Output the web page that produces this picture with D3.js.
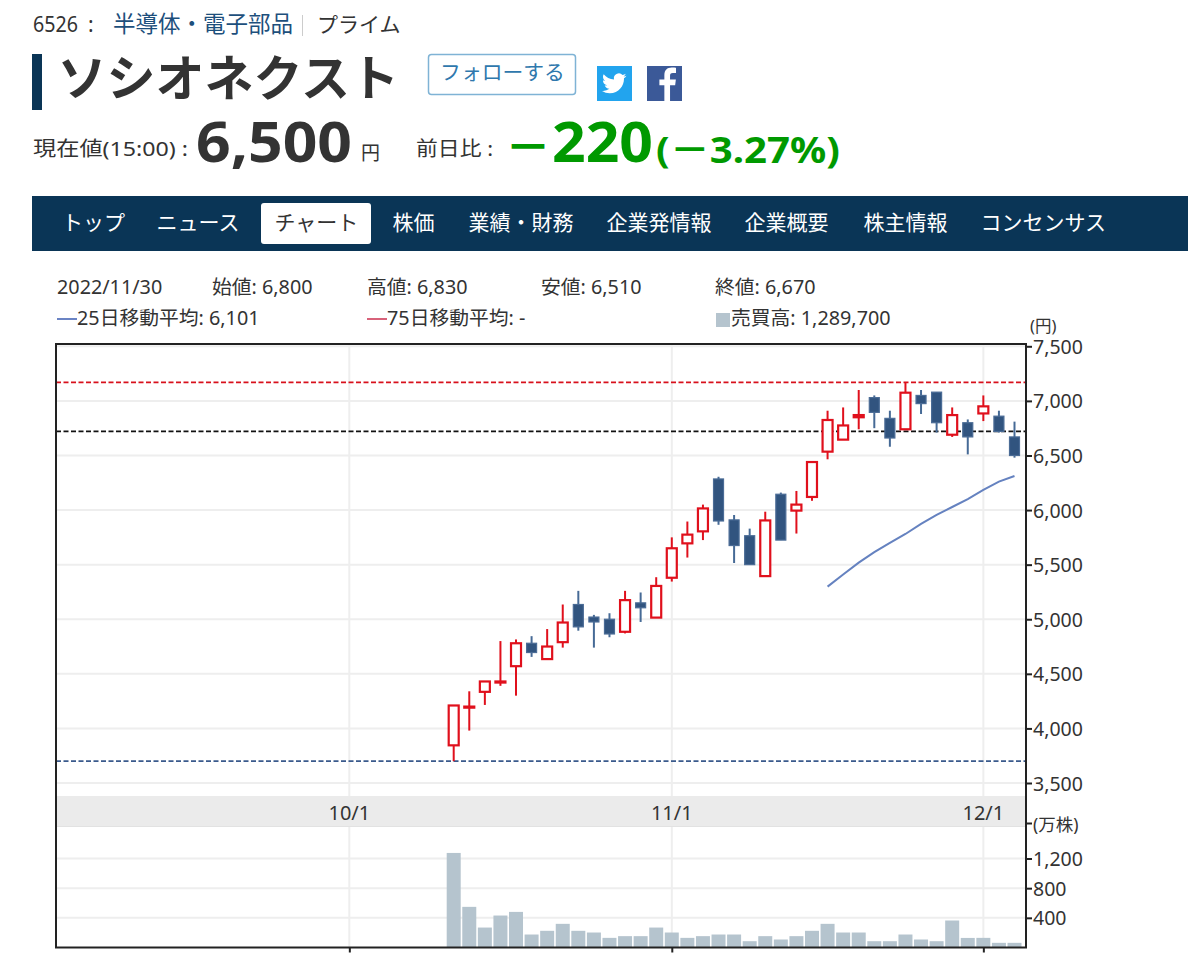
<html>
<head>
  <meta charset="utf-8">
  <style>
    body { margin: 0; background: #fff; }
    text { font-family: "Noto Sans", "Noto Sans CJK JP", sans-serif; fill: #333; }
  </style>
  <script src="https://d3js.org/d3.v7.min.js"></script>
  <script>
    var dates = ["10/12","10/13","10/14","10/17","10/18","10/19","10/20","10/21","10/24","10/25","10/26","10/27","10/28","10/31",
                 "11/1","11/2","11/4","11/7","11/8","11/9","11/10","11/11","11/14","11/15","11/16","11/17","11/18","11/21","11/22","11/24","11/25","11/28","11/29","11/30",
                 "12/1","12/2","12/5"];
    var opens  = [3845,4190,4335,4420,4570,4780,4635,4790,5135,5020,5000,4885,5150,5015,5380,5695,5805,6285,5910,5765,5395,6145,5995,6120,6535,6645,6850,7030,6840,6740,7050,7080,6690,6800,6885,6860,6670];
    var closes = [4210,4200,4430,4430,4780,4695,4750,4970,4930,4975,4865,5175,5105,5305,5650,5775,6015,5900,5675,5500,5905,5725,6050,6440,6825,6775,6870,6895,6660,7075,6975,6800,6870,6670,6950,6720,6500];
    var highs  = [4210,4340,4430,4800,4815,4845,4910,5135,5260,5040,5055,5260,5245,5385,5750,5895,6050,6305,5955,5830,5985,6160,6175,6440,6910,6940,7100,7050,6910,7170,7100,7080,6940,6830,7050,6910,6810];
    var lows   = [3700,3980,4215,4390,4300,4655,4635,4740,4895,4740,4835,4870,4975,5015,5345,5565,5725,5865,5515,5500,5395,5725,5785,6085,6465,6645,6740,6750,6580,6740,6880,6710,6670,6510,6815,6710,6480];
    var volumes = [1275,548,269,431,480,175,225,319,225,202,130,153,153,269,202,130,153,175,175,85,153,108,153,225,319,202,202,85,85,175,108,85,364,129,130,63,63];
    // 25 day average only starts at the 25th session
    var ma25 = [5299,5410,5518,5614,5699,5781,5873,5955,6028,6101,6184,6260,6312];
    var ma25Start = 24;

    var refLevels = [7170, 6720, 3700];
    var priceTicks = [3500,4000,4500,5000,5500,6000,6500,7000,7500];
    var volumeTicks = [400,800,1200];
    var xTickLabels = ["10/1","11/1","12/1"];
    var xTickSlots = [-6.7, 14, 34];   // 10/1 is not a session, it sits between slots

    var navLabels = ["トップ","ニュース","チャート","株価","業績・財務","企業発情報","企業概要","株主情報","コンセンサス"];
    var navLeft = [62,156.500,274.500,392.500,468.500,606.500,744.500,863.500,980.500];

    var RED = "#e0101c", BLUE = "#31547f", GREEN = "#009900", NAVY = "#0a3556";

    function makeChart() {
      var svg = d3.select("#chart");
      var fmt = d3.format(",");

      function label(x, y, str, size, opts) {
        opts = opts || {};
        var t = svg.append("text").attr("x", x).attr("y", y).text(str)
            .attr("font-size", size)
            .attr("font-weight", opts.weight || "normal")
            .attr("text-anchor", opts.anchor || "start")
            .style("fill", opts.fill || "#333");
        // the site font runs wider than what is installed here
        if (opts.len) t.attr("textLength", opts.len).attr("lengthAdjust", "spacingAndGlyphs");
        return t;
      }

      // ---- page header
      label(33, 32, "6526", 21.500, { len: 45 });
      label(88, 32, ":", 21);
      label(113, 32, "半導体・電子部品", 22.500, { fill: "#1d4f7c" });
      svg.append("rect").attr("x", 302).attr("y", 15).attr("width", 1).attr("height", 21).attr("fill", "#ccc");
      label(317, 32, "プライム", 21);

      svg.append("rect").attr("x", 32).attr("y", 54).attr("width", 10).attr("height", 56).attr("fill", NAVY);
      label(57.500, 96, "ソシオネクスト", 49, { weight: "bold" });

      svg.append("rect").attr("x", 428.5).attr("y", 54.5).attr("width", 147).attr("height", 40).attr("rx", 3)
          .attr("fill", "#fff").attr("stroke", "#7fb3d5").attr("stroke-width", 1.5);
      label(502.500, 80, "フォローする", 20.800, { anchor: "middle", fill: "#2f78ad" });

      svg.append("rect").attr("x", 597).attr("y", 66).attr("width", 35).attr("height", 35).attr("fill", "#22a4ee");
      svg.append("path").attr("transform", "translate(602,71) scale(1.02)").attr("fill", "#fff")
          .attr("d", "M23.953 4.57a10 10 0 01-2.825.775 4.958 4.958 0 002.163-2.723c-.951.555-2.005.959-3.127 1.184a4.92 4.92 0 00-8.384 4.482C7.69 8.095 4.067 6.13 1.64 3.162a4.822 4.822 0 00-.666 2.475c0 1.71.87 3.213 2.188 4.096a4.904 4.904 0 01-2.228-.616v.06a4.923 4.923 0 003.946 4.827 4.996 4.996 0 01-2.212.085 4.936 4.936 0 004.604 3.417 9.867 9.867 0 01-6.102 2.105c-.39 0-.779-.023-1.17-.067a13.995 13.995 0 007.557 2.209c9.053 0 13.998-7.496 13.998-13.985 0-.21 0-.42-.015-.63A9.935 9.935 0 0024 4.59z");
      svg.append("rect").attr("x", 647).attr("y", 66).attr("width", 35).attr("height", 35).attr("fill", "#3b5998");
      svg.append("path").attr("transform", "translate(653,66) scale(1.42)").attr("fill", "#fff")
          .attr("d", "M12 24.600V13.500h3.600l.5-4H12V7c0-1.200.3-2 2-2h2.200V1.300C15.800 1.200 14.500 1.100 13.200 1.100 10 1.100 8 3 8 6.500v3H4.500v4H8v11.100z");

      label(33, 156, "現在値(15:00) :", 20, { len: 155 });
      label(196, 162, "6,500", 56, { weight: "bold", len: 156 });
      label(361, 160, "円", 19);
      label(416, 156, "前日比 :", 20, { len: 77 });
      label(505, 163, "－", 46, { weight: "bold", fill: GREEN });
      label(552, 162, "220", 56, { weight: "bold", fill: GREEN, len: 101 });
      label(656, 163, "(－3.27%)", 36, { weight: "bold", fill: GREEN, len: 184 });

      // ---- nav bar
      svg.append("rect").attr("x", 32).attr("y", 196).attr("width", 1156).attr("height", 55).attr("fill", NAVY);
      svg.append("rect").attr("x", 261).attr("y", 203).attr("width", 110).attr("height", 41).attr("rx", 3).attr("fill", "#fff");
      svg.selectAll(".nav").data(navLabels).enter().append("text").attr("class", "nav")
          .attr("x", (d, i) => navLeft[i]).attr("y", 230)
          .attr("font-size", 21)
          .style("fill", (d, i) => i == 2 ? "#333" : "#fff")
          .text(d => d);

      // ---- scales
      var plotL = 56, plotR = 1026, plotT = 344, plotB = 947.500;
      var x = d3.scaleLinear().domain([0, dates.length - 1]).range([453.700, 1014.500]);
      var y = d3.scaleLinear().domain([3500, 7500]).range([783, 346.300]);
      var yVol = d3.scaleLinear().domain([0, 1200]).range([plotB, 858.500]);

      // ---- info rows, the readout is for the 11/30 session
      var s = dates.indexOf("11/30");
      var infoSize = 19.800;
      label(57, 294, "2022/" + dates[s], infoSize);
      label(212, 294, "始値: " + fmt(opens[s]), infoSize);
      label(367, 294, "高値: " + fmt(highs[s]), infoSize);
      label(541, 294, "安値: " + fmt(lows[s]), infoSize);
      label(715, 294, "終値: " + fmt(closes[s]), infoSize);
      svg.append("line").attr("x1", 57).attr("x2", 77).attr("y1", 319).attr("y2", 319).attr("stroke", "#6b84c4").attr("stroke-width", 2);
      label(77, 325, "25日移動平均: " + fmt(ma25[s - ma25Start]), infoSize);
      svg.append("line").attr("x1", 367).attr("x2", 387).attr("y1", 319).attr("y2", 319).attr("stroke", "#d8627a").attr("stroke-width", 2);
      label(387, 325, "75日移動平均: -", infoSize);
      svg.append("rect").attr("x", 716).attr("y", 313).attr("width", 14).attr("height", 14).attr("fill", "#b5c4ce");
      label(731, 325, "売買高: 1,289,700", infoSize);

      // ---- plot background and grid
      svg.append("rect").attr("x", plotL).attr("y", 796).attr("width", plotR - plotL).attr("height", 31)
          .attr("fill", "#ebebeb");
      svg.append("line").attr("x1", plotL).attr("x2", plotR).attr("y1", 826.500).attr("y2", 826.500).attr("stroke", "#e2e2e2");

      var grid = svg.append("g").attr("stroke", "#eeeeee").attr("stroke-width", 2);
      grid.selectAll(".gy").data(priceTicks).enter().append("line")
          .attr("x1", plotL).attr("x2", plotR).attr("y1", d => y(d)).attr("y2", d => y(d));
      grid.selectAll(".gv").data(volumeTicks).enter().append("line")
          .attr("x1", plotL).attr("x2", plotR).attr("y1", d => yVol(d)).attr("y2", d => yVol(d));
      grid.selectAll(".gx").data(xTickSlots).enter().append("line")
          .attr("x1", d => x(d)).attr("x2", d => x(d)).attr("y1", plotT).attr("y2", 796);
      grid.selectAll(".gx2").data(xTickSlots).enter().append("line")
          .attr("x1", d => x(d)).attr("x2", d => x(d)).attr("y1", 827).attr("y2", plotB);

      svg.selectAll(".xl").data(xTickLabels).enter().append("text").attr("class", "xl")
          .attr("x", (d, i) => x(xTickSlots[i])).attr("y", 820)
          .attr("text-anchor", "middle").attr("font-size", 20).text(d => d);

      // ---- high / previous close / low levels
      var levelColors = ["#d8101c", "#111", "#3a5a8c"];
      svg.selectAll(".lvl").data(refLevels).enter().append("line")
          .attr("x1", plotL).attr("x2", plotR).attr("y1", d => y(d)).attr("y2", d => y(d))
          .attr("stroke", (d, i) => levelColors[i]).attr("stroke-width", 1.800).attr("stroke-dasharray", "5,2.500");

      // ---- candles
      var idx = d3.range(dates.length);
      var up = i => closes[i] >= opens[i];
      var candles = svg.append("g");
      candles.selectAll("line").data(idx).enter().append("line")
          .attr("x1", i => x(i)).attr("x2", i => x(i))
          .attr("y1", i => y(highs[i])).attr("y2", i => y(lows[i]))
          .attr("stroke", i => up(i) ? RED : "#466a96").attr("stroke-width", 2);
      candles.selectAll("rect").data(idx).enter().append("rect")
          .attr("x", i => x(i) - 5).attr("width", 10)
          .attr("y", i => y(Math.max(opens[i], closes[i])))
          .attr("height", i => Math.abs(y(opens[i]) - y(closes[i])))
          .attr("fill", i => up(i) ? "#fff" : BLUE)
          .attr("stroke", i => up(i) ? RED : "#4b6c96")
          .attr("stroke-width", i => up(i) ? 2.200 : 1.200);

      // ---- moving average
      var maLine = d3.line().x((d, i) => x(i + ma25Start)).y(d => y(d));
      svg.append("path").attr("d", maLine(ma25)).attr("fill", "none")
          .attr("stroke", "#6582c0").attr("stroke-width", 2);

      // ---- volume
      svg.selectAll(".vol").data(volumes).enter().append("rect").attr("class", "vol")
          .attr("x", (d, i) => x(i) - 7).attr("width", 14)
          .attr("y", d => yVol(d)).attr("height", d => plotB - yVol(d))
          .attr("fill", "#b5c4ce");

      // ---- frame and axes
      svg.append("rect").attr("x", plotL).attr("y", plotT).attr("width", plotR - plotL).attr("height", plotB - plotT)
          .attr("fill", "none").attr("stroke", "#222").attr("stroke-width", 2);

      var axisPrice = d3.axisRight(y).tickValues(priceTicks).tickFormat(fmt).tickSize(6).tickPadding(1);
      var axisVol = d3.axisRight(yVol).tickValues(volumeTicks).tickFormat(fmt).tickSize(6).tickPadding(1);
      [svg.append("g").call(axisPrice), svg.append("g").call(axisVol)].forEach(function (g) {
        g.attr("transform", "translate(" + plotR + ",0)");
        g.select(".domain").remove();
        g.selectAll("line").attr("stroke", "#222").attr("stroke-width", 2);
        g.selectAll("text").attr("font-size", 19.500).attr("dy", "0.36em").style("fill", "#333")
            .style("font-family", '"Noto Sans", "Noto Sans CJK JP", sans-serif');
      });
      svg.append("line").attr("x1", plotR).attr("x2", plotR + 6).attr("y1", 823.500).attr("y2", 823.500).attr("stroke", "#222").attr("stroke-width", 2);

      var axisX = d3.axisBottom(x).tickValues(xTickSlots).tickFormat("").tickSize(5);
      var gx = svg.append("g").attr("transform", "translate(0," + plotB + ")").call(axisX);
      gx.select(".domain").remove();
      gx.selectAll("line").attr("stroke", "#222").attr("stroke-width", 2);

      label(1030, 332, "(円)", 16.500);
      label(1033, 831, "(万株)", 17.500);
    }
  </script>
</head>

<body onload="makeChart()">
  <svg id="chart" width="1200" height="964"></svg>
</body>
</html>
